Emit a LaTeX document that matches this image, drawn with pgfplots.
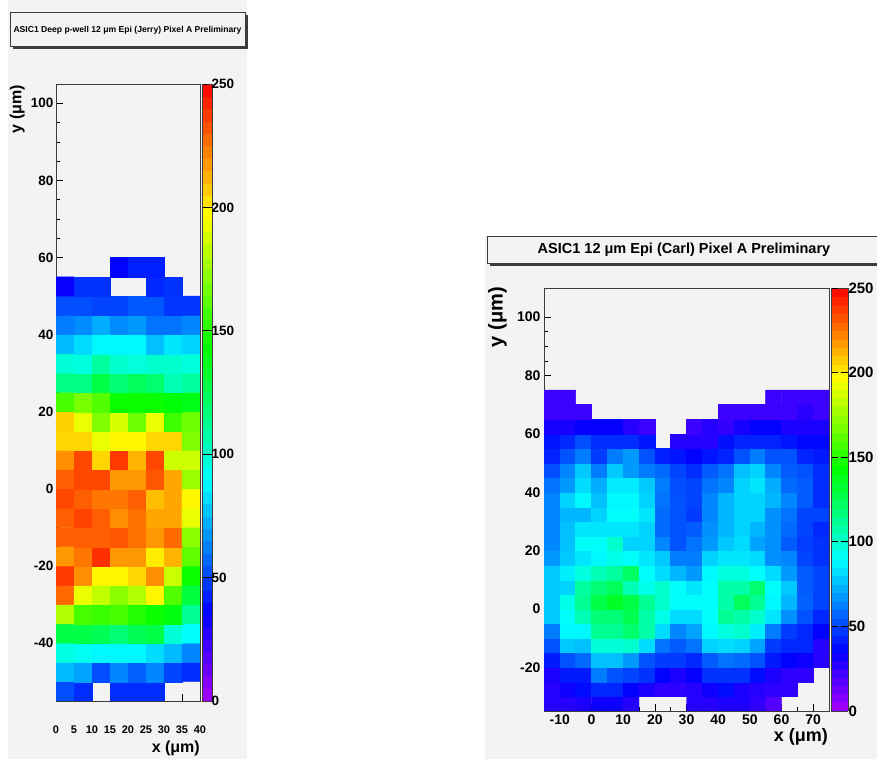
\documentclass[border=0pt]{standalone}
\usepackage{pgfplots}
\usepackage{pgfplotstable}
\pgfplotsset{compat=1.18}
\usepackage{fontspec}
\setmainfont{Liberation Sans}
\definecolor{padgrey}{RGB}{243,243,243}
\definecolor{framegrey}{RGB}{60,60,60}
\pgfplotsset{
  colormap={rootpal}{rgb255(0)=(170,0,255) rgb255(357)=(0,0,255) rgb255(893)=(0,255,255) rgb255(1429)=(0,255,0) rgb255(1964)=(255,255,0) rgb255(2500)=(255,0,0)},
}
\newcommand{\fs}[1]{\fontsize{#1}{#1}\selectfont\bfseries}

% Left: x centres 2.5..37.5, rows y = -52.5 .. 57.5
\pgfplotstableread{
x y c
2.5 -52.5 52
7.5 -52.5 45
12.5 -52.5 nan
17.5 -52.5 45
22.5 -52.5 45
27.5 -52.5 45
32.5 -52.5 nan
37.5 -52.5 nan
2.5 -47.5 75
7.5 -47.5 70
12.5 -47.5 52
17.5 -47.5 64
22.5 -47.5 56
27.5 -47.5 64
32.5 -47.5 50
37.5 -47.5 45
2.5 -42.5 95
7.5 -42.5 92
12.5 -42.5 88
17.5 -42.5 88
22.5 -42.5 88
27.5 -42.5 82
32.5 -42.5 75
37.5 -42.5 64
2.5 -37.5 128
7.5 -37.5 128
12.5 -37.5 125
17.5 -37.5 118
22.5 -37.5 125
27.5 -37.5 128
32.5 -37.5 98
37.5 -37.5 90
2.5 -32.5 180
7.5 -32.5 158
12.5 -32.5 155
17.5 -32.5 158
22.5 -32.5 150
27.5 -32.5 145
32.5 -32.5 140
37.5 -32.5 112
2.5 -27.5 228
7.5 -27.5 192
12.5 -27.5 183
17.5 -27.5 172
22.5 -27.5 180
27.5 -27.5 198
32.5 -27.5 160
37.5 -27.5 130
2.5 -22.5 238
7.5 -22.5 220
12.5 -22.5 198
17.5 -22.5 198
22.5 -22.5 205
27.5 -22.5 220
32.5 -22.5 185
37.5 -22.5 145
2.5 -17.5 218
7.5 -17.5 225
12.5 -17.5 240
17.5 -17.5 218
22.5 -17.5 218
27.5 -17.5 200
32.5 -17.5 212
37.5 -17.5 163
2.5 -12.5 230
7.5 -12.5 230
12.5 -12.5 230
17.5 -12.5 232
22.5 -12.5 226
27.5 -12.5 218
32.5 -12.5 228
37.5 -12.5 172
2.5 -7.5 230
7.5 -7.5 236
12.5 -7.5 230
17.5 -7.5 220
22.5 -7.5 226
27.5 -7.5 215
32.5 -7.5 215
37.5 -7.5 192
2.5 -2.5 235
7.5 -2.5 230
12.5 -2.5 225
17.5 -2.5 225
22.5 -2.5 230
27.5 -2.5 210
32.5 -2.5 215
37.5 -2.5 198
2.5 2.5 230
7.5 2.5 235
12.5 2.5 235
17.5 2.5 218
22.5 2.5 218
27.5 2.5 232
32.5 2.5 215
37.5 2.5 175
2.5 7.5 220
7.5 7.5 235
12.5 7.5 205
17.5 7.5 238
22.5 7.5 212
27.5 7.5 235
32.5 7.5 186
37.5 7.5 186
2.5 12.5 205
7.5 12.5 205
12.5 12.5 192
17.5 12.5 198
22.5 12.5 198
27.5 12.5 205
32.5 12.5 205
37.5 12.5 170
2.5 17.5 206
7.5 17.5 192
12.5 17.5 170
17.5 17.5 188
22.5 17.5 166
27.5 17.5 192
32.5 17.5 156
37.5 17.5 166
2.5 22.5 158
7.5 22.5 168
12.5 22.5 160
17.5 22.5 145
22.5 22.5 145
27.5 22.5 145
32.5 22.5 142
37.5 22.5 138
2.5 27.5 115
7.5 27.5 115
12.5 27.5 128
17.5 27.5 118
22.5 27.5 124
27.5 27.5 120
32.5 27.5 105
37.5 27.5 110
2.5 32.5 98
7.5 32.5 96
12.5 32.5 110
17.5 32.5 100
22.5 32.5 97
27.5 32.5 100
32.5 32.5 100
37.5 32.5 96
2.5 37.5 75
7.5 37.5 82
12.5 37.5 88
17.5 37.5 88
22.5 37.5 88
27.5 37.5 76
32.5 37.5 84
37.5 37.5 80
2.5 42.5 62
7.5 42.5 65
12.5 42.5 72
17.5 42.5 65
22.5 42.5 68
27.5 42.5 60
32.5 42.5 60
37.5 42.5 64
2.5 47.5 52
7.5 47.5 52
12.5 47.5 50
17.5 47.5 50
22.5 47.5 54
27.5 47.5 54
32.5 47.5 47
37.5 47.5 47
2.5 52.5 34
7.5 52.5 46
12.5 52.5 46
17.5 52.5 nan
22.5 52.5 nan
27.5 52.5 44
32.5 52.5 46
37.5 52.5 nan
2.5 57.5 nan
7.5 57.5 nan
12.5 57.5 nan
17.5 57.5 36
22.5 57.5 42
27.5 57.5 42
32.5 57.5 nan
37.5 57.5 nan
}\leftdata

% Right: x centres -12.5..72.5, rows y = -32.5 .. 72.5
\pgfplotstableread[row sep=\\]{
x y c\\
-12.5 -32.5 28\\ -7.5 -32.5 28\\ -2.5 -32.5 30\\ 2.5 -32.5 33\\ 7.5 -32.5 33\\ 12.5 -32.5 28\\ 17.5 -32.5 nan\\ 22.5 -32.5 nan\\ 27.5 -32.5 nan\\ 32.5 -32.5 28\\ 37.5 -32.5 28\\ 42.5 -32.5 30\\ 47.5 -32.5 30\\ 52.5 -32.5 26\\ 57.5 -32.5 18\\ 62.5 -32.5 nan\\ 67.5 -32.5 nan\\ 72.5 -32.5 nan\\
-12.5 -27.5 28\\ -7.5 -27.5 33\\ -2.5 -27.5 38\\ 2.5 -27.5 44\\ 7.5 -27.5 44\\ 12.5 -27.5 36\\ 17.5 -27.5 30\\ 22.5 -27.5 26\\ 27.5 -27.5 26\\ 32.5 -27.5 28\\ 37.5 -27.5 33\\ 42.5 -27.5 38\\ 47.5 -27.5 30\\ 52.5 -27.5 28\\ 57.5 -27.5 26\\ 62.5 -27.5 26\\ 67.5 -27.5 nan\\ 72.5 -27.5 nan\\
-12.5 -22.5 30\\ -7.5 -22.5 41\\ -2.5 -22.5 41\\ 2.5 -22.5 62\\ 7.5 -22.5 53\\ 12.5 -22.5 50\\ 17.5 -22.5 46\\ 22.5 -22.5 36\\ 27.5 -22.5 30\\ 32.5 -22.5 35\\ 37.5 -22.5 46\\ 42.5 -22.5 46\\ 47.5 -22.5 46\\ 52.5 -22.5 38\\ 57.5 -22.5 30\\ 62.5 -22.5 26\\ 67.5 -22.5 26\\ 72.5 -22.5 nan\\
-12.5 -17.5 41\\ -7.5 -17.5 53\\ -2.5 -17.5 58\\ 2.5 -17.5 76\\ 7.5 -17.5 76\\ 12.5 -17.5 68\\ 17.5 -17.5 53\\ 22.5 -17.5 48\\ 27.5 -17.5 48\\ 32.5 -17.5 44\\ 37.5 -17.5 55\\ 42.5 -17.5 60\\ 47.5 -17.5 58\\ 52.5 -17.5 53\\ 57.5 -17.5 41\\ 62.5 -17.5 36\\ 67.5 -17.5 33\\ 72.5 -17.5 28\\
-12.5 -12.5 53\\ -7.5 -12.5 78\\ -2.5 -12.5 76\\ 2.5 -12.5 98\\ 7.5 -12.5 98\\ 12.5 -12.5 100\\ 17.5 -12.5 82\\ 22.5 -12.5 60\\ 27.5 -12.5 55\\ 32.5 -12.5 60\\ 37.5 -12.5 80\\ 42.5 -12.5 82\\ 47.5 -12.5 80\\ 52.5 -12.5 70\\ 57.5 -12.5 48\\ 62.5 -12.5 44\\ 67.5 -12.5 44\\ 72.5 -12.5 28\\
-12.5 -7.5 62\\ -7.5 -7.5 88\\ -2.5 -7.5 88\\ 2.5 -7.5 112\\ 7.5 -7.5 112\\ 12.5 -7.5 120\\ 17.5 -7.5 108\\ 22.5 -7.5 82\\ 27.5 -7.5 64\\ 32.5 -7.5 70\\ 37.5 -7.5 88\\ 42.5 -7.5 96\\ 47.5 -7.5 100\\ 52.5 -7.5 86\\ 57.5 -7.5 62\\ 62.5 -7.5 48\\ 67.5 -7.5 44\\ 72.5 -7.5 36\\
-12.5 -2.5 78\\ -7.5 -2.5 90\\ -2.5 -2.5 105\\ 2.5 -2.5 118\\ 7.5 -2.5 118\\ 12.5 -2.5 126\\ 17.5 -2.5 108\\ 22.5 -2.5 94\\ 27.5 -2.5 82\\ 32.5 -2.5 82\\ 37.5 -2.5 90\\ 42.5 -2.5 112\\ 47.5 -2.5 108\\ 52.5 -2.5 100\\ 57.5 -2.5 84\\ 62.5 -2.5 66\\ 67.5 -2.5 53\\ 72.5 -2.5 44\\
-12.5 2.5 78\\ -7.5 2.5 94\\ -2.5 2.5 112\\ 2.5 2.5 128\\ 7.5 2.5 135\\ 12.5 2.5 128\\ 17.5 2.5 112\\ 22.5 2.5 100\\ 27.5 2.5 90\\ 32.5 2.5 90\\ 37.5 2.5 90\\ 42.5 2.5 108\\ 47.5 2.5 124\\ 52.5 2.5 112\\ 57.5 2.5 88\\ 62.5 2.5 74\\ 67.5 2.5 56\\ 72.5 2.5 50\\
-12.5 7.5 78\\ -7.5 7.5 80\\ -2.5 7.5 110\\ 2.5 7.5 118\\ 7.5 7.5 124\\ 12.5 7.5 105\\ 17.5 7.5 94\\ 22.5 7.5 100\\ 27.5 7.5 90\\ 32.5 7.5 84\\ 37.5 7.5 90\\ 42.5 7.5 108\\ 47.5 7.5 108\\ 52.5 7.5 120\\ 57.5 7.5 89\\ 62.5 7.5 78\\ 67.5 7.5 55\\ 72.5 7.5 50\\
-12.5 12.5 78\\ -7.5 12.5 86\\ -2.5 12.5 96\\ 2.5 12.5 105\\ 7.5 12.5 110\\ 12.5 12.5 122\\ 17.5 12.5 90\\ 22.5 12.5 82\\ 27.5 12.5 74\\ 32.5 12.5 68\\ 37.5 12.5 88\\ 42.5 12.5 96\\ 47.5 12.5 96\\ 52.5 12.5 90\\ 57.5 12.5 82\\ 62.5 12.5 68\\ 67.5 12.5 55\\ 72.5 12.5 50\\
-12.5 17.5 68\\ -7.5 17.5 78\\ -2.5 17.5 84\\ 2.5 17.5 88\\ 7.5 17.5 94\\ 12.5 17.5 90\\ 17.5 17.5 84\\ 22.5 17.5 78\\ 27.5 17.5 62\\ 32.5 17.5 62\\ 37.5 17.5 80\\ 42.5 17.5 84\\ 47.5 17.5 84\\ 52.5 17.5 82\\ 57.5 17.5 66\\ 62.5 17.5 64\\ 67.5 17.5 50\\ 72.5 17.5 46\\
-12.5 22.5 64\\ -7.5 22.5 76\\ -2.5 22.5 90\\ 2.5 22.5 90\\ 7.5 22.5 100\\ 12.5 22.5 80\\ 17.5 22.5 80\\ 22.5 22.5 64\\ 27.5 22.5 53\\ 32.5 22.5 60\\ 37.5 22.5 68\\ 42.5 22.5 78\\ 47.5 22.5 82\\ 52.5 22.5 70\\ 57.5 22.5 66\\ 62.5 22.5 55\\ 67.5 22.5 48\\ 72.5 22.5 46\\
-12.5 27.5 64\\ -7.5 27.5 76\\ -2.5 27.5 84\\ 2.5 27.5 84\\ 7.5 27.5 84\\ 12.5 27.5 84\\ 17.5 27.5 80\\ 22.5 27.5 58\\ 27.5 27.5 53\\ 32.5 27.5 55\\ 37.5 27.5 66\\ 42.5 27.5 74\\ 47.5 27.5 80\\ 52.5 27.5 74\\ 57.5 27.5 66\\ 62.5 27.5 58\\ 67.5 27.5 50\\ 72.5 27.5 44\\
-12.5 32.5 64\\ -7.5 32.5 74\\ -2.5 32.5 74\\ 2.5 32.5 80\\ 7.5 32.5 90\\ 12.5 32.5 90\\ 17.5 32.5 84\\ 22.5 32.5 58\\ 27.5 32.5 53\\ 32.5 32.5 48\\ 37.5 32.5 64\\ 42.5 32.5 74\\ 47.5 32.5 80\\ 52.5 32.5 80\\ 57.5 32.5 66\\ 62.5 32.5 60\\ 67.5 32.5 50\\ 72.5 32.5 50\\
-12.5 37.5 64\\ -7.5 37.5 80\\ -2.5 37.5 88\\ 2.5 37.5 76\\ 7.5 37.5 88\\ 12.5 37.5 88\\ 17.5 37.5 80\\ 22.5 37.5 60\\ 27.5 37.5 53\\ 32.5 37.5 50\\ 37.5 37.5 64\\ 42.5 37.5 74\\ 47.5 37.5 80\\ 52.5 37.5 80\\ 57.5 37.5 74\\ 62.5 37.5 64\\ 67.5 37.5 55\\ 72.5 37.5 45\\
-12.5 42.5 60\\ -7.5 42.5 68\\ -2.5 42.5 82\\ 2.5 42.5 72\\ 7.5 42.5 85\\ 12.5 42.5 85\\ 17.5 42.5 78\\ 22.5 42.5 62\\ 27.5 42.5 52\\ 32.5 42.5 50\\ 37.5 42.5 60\\ 42.5 42.5 64\\ 47.5 42.5 80\\ 52.5 42.5 84\\ 57.5 42.5 72\\ 62.5 42.5 58\\ 67.5 42.5 55\\ 72.5 42.5 45\\
-12.5 47.5 52\\ -7.5 47.5 64\\ -2.5 47.5 78\\ 2.5 47.5 62\\ 7.5 47.5 78\\ 12.5 47.5 68\\ 17.5 47.5 62\\ 22.5 47.5 58\\ 27.5 47.5 50\\ 32.5 47.5 45\\ 37.5 47.5 55\\ 42.5 47.5 60\\ 47.5 47.5 76\\ 52.5 47.5 80\\ 57.5 47.5 64\\ 62.5 47.5 55\\ 67.5 47.5 53\\ 72.5 47.5 45\\
-12.5 52.5 43\\ -7.5 52.5 53\\ -2.5 52.5 62\\ 2.5 52.5 48\\ 7.5 52.5 62\\ 12.5 52.5 68\\ 17.5 52.5 53\\ 22.5 52.5 42\\ 27.5 52.5 40\\ 32.5 52.5 36\\ 37.5 52.5 40\\ 42.5 52.5 43\\ 47.5 52.5 53\\ 52.5 52.5 62\\ 57.5 52.5 53\\ 62.5 52.5 53\\ 67.5 52.5 43\\ 72.5 52.5 41\\
-12.5 57.5 40\\ -7.5 57.5 44\\ -2.5 57.5 52\\ 2.5 57.5 45\\ 7.5 57.5 45\\ 12.5 57.5 45\\ 17.5 57.5 40\\ 22.5 57.5 nan\\ 27.5 57.5 28\\ 32.5 57.5 28\\ 37.5 57.5 28\\ 42.5 57.5 39\\ 47.5 57.5 43\\ 52.5 57.5 43\\ 57.5 57.5 43\\ 62.5 57.5 40\\ 67.5 57.5 37\\ 72.5 57.5 37\\
-12.5 62.5 31\\ -7.5 62.5 31\\ -2.5 62.5 35\\ 2.5 62.5 35\\ 7.5 62.5 35\\ 12.5 62.5 28\\ 17.5 62.5 23\\ 22.5 62.5 nan\\ 27.5 62.5 nan\\ 32.5 62.5 23\\ 37.5 62.5 28\\ 42.5 62.5 25\\ 47.5 62.5 31\\ 52.5 62.5 36\\ 57.5 62.5 36\\ 62.5 62.5 30\\ 67.5 62.5 30\\ 72.5 62.5 30\\
-12.5 67.5 23\\ -7.5 67.5 23\\ -2.5 67.5 23\\ 2.5 67.5 nan\\ 7.5 67.5 nan\\ 12.5 67.5 nan\\ 17.5 67.5 nan\\ 22.5 67.5 nan\\ 27.5 67.5 nan\\ 32.5 67.5 nan\\ 37.5 67.5 nan\\ 42.5 67.5 23\\ 47.5 67.5 23\\ 52.5 67.5 23\\ 57.5 67.5 23\\ 62.5 67.5 23\\ 67.5 67.5 27\\ 72.5 67.5 23\\
-12.5 72.5 23\\ -7.5 72.5 23\\ -2.5 72.5 nan\\ 2.5 72.5 nan\\ 7.5 72.5 nan\\ 12.5 72.5 nan\\ 17.5 72.5 nan\\ 22.5 72.5 nan\\ 27.5 72.5 nan\\ 32.5 72.5 nan\\ 37.5 72.5 nan\\ 42.5 72.5 nan\\ 47.5 72.5 nan\\ 52.5 72.5 nan\\ 57.5 72.5 23\\ 62.5 72.5 23\\ 67.5 72.5 23\\ 72.5 72.5 23\\
}\rightdata

\pgfplotsset{
  rootaxis/.style={
    scale only axis, enlargelimits=false,
    axis background/.style={fill=padgrey},
    axis line style={framegrey, line width=0.6pt},
    tick pos=left, tick align=inside,
    major tick length=7pt, minor tick length=3.5pt,
    every tick/.style={black, line width=0.6pt},
    colormap name=rootpal, point meta min=0, point meta max=250,
    colorbar, colorbar sampled,
    colorbar shift/.style={xshift=2pt},
    unbounded coords=jump,
  },
}

\begin{document}
\begin{tikzpicture}
\begin{scope}[x=1pt, y=-1pt, shift={(0pt,759pt)}]
  \fill[white] (0,0) rectangle (877,759);
  \fill[padgrey] (8,0) rectangle (247,759);
  \fill[padgrey] (485,236) rectangle (877,759);
\end{scope}

% ---------------- left ----------------
\begin{axis}[rootaxis,
  at={(56pt,58pt)}, anchor=south west,
  width=144pt, height=617pt,
  xmin=0, xmax=40, ymin=-55, ymax=105,
  xtick={0,5,...,40},
  ytick={-40,-20,...,100}, minor y tick num=3,
  xticklabel style={font=\fs{11}, yshift=-21pt},
  yticklabel style={font=\fs{13.5}, xshift=1pt},
  /pgf/number format/assume math mode=true,
  colorbar style={
    at={(parent axis.north east)}, anchor=north west,
    width=10pt, ytick={0,50,...,250},
    yticklabel style={font=\fs{13.5}, xshift=-4pt},
    /pgf/number format/assume math mode=true,
    axis line style={framegrey}, tick align=inside,
    major tick length=5pt,
    samples=51,
  },
]
\addplot[matrix plot*, mesh/cols=8, point meta=explicit] table[x=x, y=y, meta=c] {\leftdata};
\end{axis}

% ---------------- right ----------------
\begin{axis}[rootaxis,
  at={(544pt,48pt)}, anchor=south west,
  width=285pt, height=423pt,
  xmin=-15, xmax=75, ymin=-35, ymax=110,
  xtick={-10,0,...,70}, minor x tick num=1,
  ytick={-20,0,...,100}, minor y tick num=3,
  xticklabel style={font=\fs{14}},
  yticklabel style={font=\fs{14}},
  /pgf/number format/assume math mode=true,
  colorbar style={
    at={(parent axis.north east)}, anchor=north west,
    width=17pt, ytick={0,50,...,250},
    yticklabel style={font=\fs{15}, xshift=-3pt},
    /pgf/number format/assume math mode=true,
    axis line style={framegrey}, tick align=inside,
    major tick length=7pt,
    samples=51,
  },
]
\addplot[matrix plot*, mesh/cols=18, point meta=explicit] table[x=x, y=y, meta=c] {\rightdata};
\end{axis}

\begin{scope}[x=1pt, y=-1pt, shift={(0pt,759pt)}]
  % left title box
  \fill[framegrey] (13,15) rectangle (248,49);
  \filldraw[fill=padgrey, draw=framegrey, line width=0.5pt] (10,12) rectangle (245,46);
  \node[font=\fs{8.6}] at (127.5,30) {ASIC1 Deep p-well 12 μm Epi (Jerry) Pixel A Preliminary};
  % right title box
  \fill[framegrey] (490,239) rectangle (877,266);
  \filldraw[fill=padgrey, draw=framegrey, line width=0.5pt] (487,236) rectangle (877,263);
  \node[font=\fs{14.5}] at (684,250) {ASIC1 12 μm Epi (Carl) Pixel A Preliminary};
  % axis labels
  \node[font=\fs{16}, rotate=90, anchor=south east, inner sep=0pt] at (25,85) {y (μm)};
  \node[font=\fs{16}, anchor=base east, inner sep=0pt] at (200,753) {x (μm)};
  \node[font=\fs{20}, rotate=90, anchor=south east, inner sep=0pt] at (507,287) {y (μm)};
  \node[font=\fs{18}, anchor=base east, inner sep=0pt] at (828,742) {x (μm)};
\end{scope}
\pgfresetboundingbox
\path[use as bounding box] (0,0) rectangle (877pt,759pt);
\end{tikzpicture}
\end{document}
